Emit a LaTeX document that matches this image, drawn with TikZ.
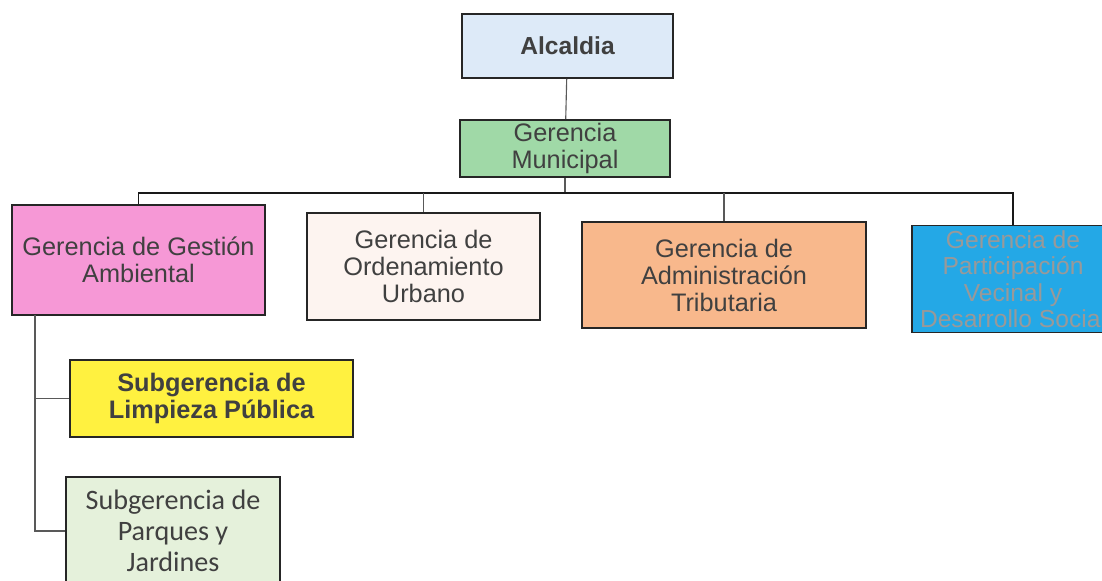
\documentclass[tikz,border=0pt]{standalone}
\usepackage{fontspec}
\setmainfont{Liberation Sans}
\newfontfamily\carlito{Carlito}
\usetikzlibrary{positioning}

\begin{document}
\begin{tikzpicture}[x=0.025cm,y=-0.025cm,
		unit/.style={draw=black!85,line width=1.2pt,rectangle,align=center,inner sep=0pt,
			text=black!75,font=\fontsize{18}{19.2}\selectfont},
		link/.style={draw=black!65,line width=0.8pt}]
		\definecolor{mycolor1}{RGB}{221,234,248}
		\definecolor{mycolor2}{RGB}{160,217,167}
		\definecolor{mycolor3}{RGB}{246,152,214}
		\definecolor{mycolor4}{RGB}{253,244,240}
		\definecolor{mycolor5}{RGB}{248,184,140}
		\definecolor{mycolor6}{RGB}{36,168,230}
		\definecolor{mycolor7}{RGB}{255,241,64}
		\definecolor{mycolor8}{RGB}{229,241,219}

		\clip (0,0) rectangle (1102,580);

		\node[unit,fill=mycolor1,minimum width=211*0.025cm,minimum height=64*0.025cm,
			font=\fontsize{17.5}{19.2}\selectfont\bfseries] (alcaldia) at (567.5,46) {Alcaldia};
		\node[unit,fill=mycolor2,minimum width=210*0.025cm,minimum height=57*0.025cm] (municipal) at (565,148.5) {Gerencia\\Municipal};

		\node[unit,fill=mycolor3,minimum width=253*0.025cm,minimum height=110*0.025cm] (gestion) at (138.5,260) {Gerencia de Gestión\\Ambiental};
		\node[unit,fill=mycolor4,minimum width=233*0.025cm,minimum height=107*0.025cm] (urbano) at (423.5,266.5) {Gerencia de\\Ordenamiento\\Urbano};
		\node[unit,fill=mycolor5,minimum width=284*0.025cm,minimum height=106*0.025cm] (tributaria) at (724,275) {Gerencia de\\Administración\\Tributaria};
		\node[unit,fill=mycolor6,minimum width=202*0.025cm,minimum height=107*0.025cm,text=black!40,
			font=\fontsize{17.5}{18.8}\selectfont] (social) at (1013,279) {Gerencia de\\Participación\\Vecinal y\\Desarrollo Social};

		\node[unit,fill=mycolor7,minimum width=283*0.025cm,minimum height=77*0.025cm,
			font=\fontsize{18}{19.2}\selectfont\bfseries] (limpieza) at (211.5,398.5) {Subgerencia de\\Limpieza Pública};
		\node[unit,fill=mycolor8,minimum width=214*0.025cm,minimum height=108*0.025cm,
			font=\fontsize{20}{22}\selectfont\carlito] (parques) at (173,531) {Subgerencia de\\Parques y\\Jardines};

		\coordinate (bus) at (565,193);
		\coordinate (trunk) at (35,315);

		\draw[link] (alcaldia) -- (municipal);
		\draw[link] (municipal) -- (bus);
		\draw[link,draw=black!90,line width=1pt] (gestion.north) |- (bus) -| (social.north);
		\draw[link] (urbano.north) -- (urbano.north |- bus);
		\draw[link] (tributaria.north) -- (tributaria.north |- bus);

		\draw[link] (trunk) |- (limpieza.west);
		\draw[link] (trunk) |- (parques.west);

\end{tikzpicture}
\end{document}
